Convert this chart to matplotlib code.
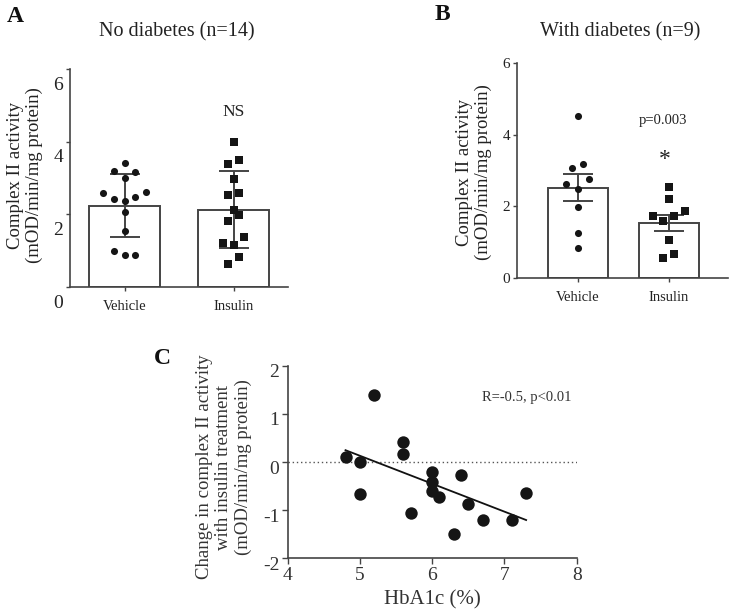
import matplotlib.pyplot as plt
import matplotlib.transforms as mtransforms
import numpy as np

plt.rcParams['font.family'] = ['Liberation Serif', 'DejaVu Serif']
plt.rcParams['axes.unicode_minus'] = False

groups = ['Vehicle', 'Insulin']

# A: no diabetes (n=14)
a_vehicle = [3.40, 3.20, 3.17, 3.01, 2.58, 2.61, 2.41, 2.48, 2.38, 2.06, 1.54, 0.99, 0.88, 0.88]
a_insulin = [3.98, 3.50, 3.39, 2.96, 2.52, 2.60, 2.12, 1.97, 1.82, 1.37, 1.20, 1.16, 0.83, 0.64]
a_means = [2.24, 2.13]
a_err = [0.87, 1.06]

# B: with diabetes (n=9)
b_vehicle = [4.53, 3.06, 3.18, 2.62, 2.76, 2.49, 1.99, 1.27, 0.83]
b_insulin = [2.55, 2.20, 1.73, 1.87, 1.59, 1.73, 1.07, 0.56, 0.67]
b_means = [2.52, 1.53]
b_err = [0.37, 0.22]

# C: HbA1c vs change in complex II activity
hba1c = [4.8, 5.0, 5.2, 5.0, 5.6, 5.6, 5.7, 6.0, 6.0, 6.0, 6.1, 6.4, 6.5, 6.3, 6.7, 7.1, 7.3]
delta = [0.11, -0.01, 1.40, -0.67, 0.42, 0.17, -1.05, -0.21, -0.42, -0.60, -0.72, -0.27, -0.88, -1.49, -1.20, -1.20, -0.64]

# swarm offsets for the dot plots (layout only)
a_veh_dx = [0, -0.10, 0.10, 0, -0.20, 0.20, -0.10, 0.10, 0, 0, 0, -0.10, 0, 0.10]
a_ins_dx = [0, 0.05, -0.05, 0, -0.05, 0.05, 0, 0.05, -0.05, 0.10, -0.10, 0, 0.05, -0.05]
b_veh_dx = [0, -0.066, 0.055, -0.128, 0.12, 0, 0, 0, 0]
b_ins_dx = [0, 0, -0.18, 0.18, -0.06, 0.06, 0, -0.06, 0.06]

ink = '#222222'
edge = '#444444'

fig = plt.figure(figsize=(7.32, 6.14), dpi=100)


def bar_panel(ax, means, err, pts, dxs, ylim, tick_fs):
    x = np.arange(len(groups))
    ax.bar(x, means, width=0.66, color='white', edgecolor=edge, linewidth=1.4, zorder=1)
    ax.errorbar(x, means, yerr=err, fmt='none', ecolor=edge, elinewidth=1.4,
                capsize=10.5, capthick=1.4, zorder=2)
    ax.scatter(x[0] + np.array(dxs[0]), pts[0], s=26, marker='o', color='#151515', zorder=3, linewidths=0)
    ax.scatter(x[1] + np.array(dxs[1]), pts[1], s=30, marker='s', color='#151515', zorder=3, linewidths=0)
    ax.set_ylim(*ylim)
    ax.set_xticks(x)
    ax.set_xticklabels(groups, fontsize=10.5, color=ink)
    for s in ['top', 'right']:
        ax.spines[s].set_visible(False)
    for s in ['left', 'bottom']:
        ax.spines[s].set_color(edge)
        ax.spines[s].set_linewidth(1.2)
    ax.tick_params(axis='x', length=3, width=1, color=edge, pad=6)
    ax.tick_params(axis='y', length=3, width=1, color=edge, pad=2, labelsize=tick_fs, labelcolor=ink)


# panel A
axA = fig.add_axes([70 / 732, 1 - 287 / 614, 218 / 732, 218 / 614])
bar_panel(axA, a_means, a_err, [a_vehicle, a_insulin], [a_veh_dx, a_ins_dx], (0, 6), 14)
axA.set_xlim(-0.5, 1.5)
axA.set_yticks([0, 2, 4, 6])
shift = mtransforms.ScaledTranslation(0, -0.14, fig.dpi_scale_trans)
for lab in axA.get_yticklabels():
    lab.set_transform(lab.get_transform() + shift)
axA.text(1, 4.83, 'NS', ha='center', va='center', fontsize=12.5, color=ink)

# panel B
axB = fig.add_axes([517 / 732, 1 - 278.3 / 614, 211 / 732, 215.6 / 614])
bar_panel(axB, b_means, b_err, [b_vehicle, b_insulin], [b_veh_dx, b_ins_dx], (0, 6), 11)
axB.set_xlim(-0.67, 1.65)
axB.set_yticks([0, 2, 4, 6])
axB.text(0.93, 4.39, 'p=0.003', ha='center', va='center', fontsize=10.5, color=ink)
axB.text(0.95, 3.3, '*', ha='center', va='center', fontsize=17, color=ink)

# panel C
axC = fig.add_axes([287.7 / 732, 1 - 558.3 / 614, 289 / 732, 192.6 / 614])
axC.axhline(0, color='#555555', linestyle=(0, (1, 2)), linewidth=1, zorder=1)
axC.scatter(hba1c, delta, s=80, color='#151515', linewidths=0, zorder=3)
slope, icpt = np.polyfit(hba1c, delta, 1)
xs = np.array([min(hba1c), max(hba1c)])
axC.plot(xs, slope * xs + icpt, color='#111111', linewidth=1.3, zorder=2)
axC.set_xlim(4, 8)
axC.set_ylim(-2, 2)
axC.set_xticks([4, 5, 6, 7, 8])
axC.set_yticks([-2, -1, 0, 1, 2])
for s in ['top', 'right']:
    axC.spines[s].set_visible(False)
for s in ['left', 'bottom']:
    axC.spines[s].set_color(edge)
    axC.spines[s].set_linewidth(1.2)
axC.tick_params(length=4, width=1, color=edge, labelsize=14, labelcolor='#333333', pad=2)
shiftC = mtransforms.ScaledTranslation(0, -0.05, fig.dpi_scale_trans)
for lab in axC.get_yticklabels():
    lab.set_transform(lab.get_transform() + shiftC)
axC.text(7.31, 1.33, 'R=-0.5, p<0.01', ha='center', va='center', fontsize=10.5, color='#333333')
axC.set_xlabel('HbA1c (%)', fontsize=15, color='#333333', labelpad=5)

# labels, titles, panel letters
fig.text(25 / 732, 1 - 175 / 614, 'Complex II activity\n(mOD/min/mg protein)', rotation=90,
         ha='center', va='center', fontsize=13.5, color=ink, linespacing=1.1)
fig.text(474 / 732, 1 - 172 / 614, 'Complex II activity\n(mOD/min/mg protein)', rotation=90,
         ha='center', va='center', fontsize=13.5, color=ink, linespacing=1.1)
fig.text(224 / 732, 1 - 467 / 614, 'Change in complex II activity\nwith insulin treatment\n(mOD/min/mg protein)',
         rotation=90, ha='center', va='center', fontsize=13.5, color='#333333', linespacing=1.15)

fig.text(177 / 732, 1 - 32 / 614, 'No diabetes (n=14)', ha='center', va='center', fontsize=14.5, color=ink)
fig.text(620 / 732, 1 - 32 / 614, 'With diabetes (n=9)', ha='center', va='center', fontsize=14.5, color=ink)
fig.text(15 / 732, 1 - 17 / 614, 'A', ha='center', va='center', fontsize=17, fontweight='bold', color='#111111')
fig.text(442 / 732, 1 - 15 / 614, 'B', ha='center', va='center', fontsize=17, fontweight='bold', color='#111111')
fig.text(162 / 732, 1 - 358 / 614, 'C', ha='center', va='center', fontsize=17, fontweight='bold', color='#111111')

fig.savefig('out.png', dpi=100)
